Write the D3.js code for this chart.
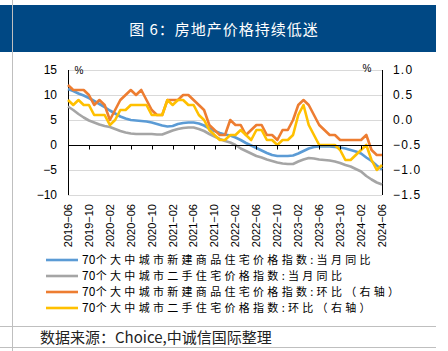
<!DOCTYPE html>
<html><head><meta charset="utf-8">
<script src="https://cdn.jsdelivr.net/npm/d3@7"></script>
<style>html,body{margin:0;padding:0;background:#fff;}svg{display:block;}</style>
</head><body>
<svg id="c" width="448" height="351"></svg>
<script>
const months = ["2019-06","2019-07","2019-08","2019-09","2019-10","2019-11","2019-12",
"2020-01","2020-02","2020-03","2020-04","2020-05","2020-06","2020-07","2020-08","2020-09","2020-10","2020-11","2020-12",
"2021-01","2021-02","2021-03","2021-04","2021-05","2021-06","2021-07","2021-08","2021-09","2021-10","2021-11","2021-12",
"2022-01","2022-02","2022-03","2022-04","2022-05","2022-06","2022-07","2022-08","2022-09","2022-10","2022-11","2022-12",
"2023-01","2023-02","2023-03","2023-04","2023-05","2023-06","2023-07","2023-08","2023-09","2023-10","2023-11","2023-12",
"2024-01","2024-02","2024-03","2024-04","2024-05","2024-06"];
const tickMonths = ["2019-06","2019-10","2020-02","2020-06","2020-10","2021-02","2021-06","2021-10","2022-02","2022-06","2022-10","2023-02","2023-06","2023-10","2024-02","2024-06"];
const leftTicks = [15,10,5,0,-5,-10];
const rightTicks = [1.0,0.5,0.0,-0.5,-1.0,-1.5];
const newYoY = [11.2,10.8,10.3,9.9,9.4,8.8,8.2,7.6,6.9,6.3,
5.7,5.3,5.0,4.9,4.8,4.7,4.5,4.2,3.9,3.7,
3.8,4.2,4.4,4.5,4.5,4.3,3.9,3.3,2.8,2.4,
2.1,1.9,1.5,1.0,0.4,-0.1,-0.6,-1.1,-1.6,-2.0,
-2.2,-2.2,-2.2,-2.1,-1.7,-1.2,-0.7,-0.4,-0.3,-0.3,
-0.3,-0.4,-0.5,-0.7,-1.0,-1.3,-1.7,-2.5,-3.2,-4.1,-4.9];
const usedYoY = [7.7,7.0,6.2,5.5,4.9,4.5,4.1,3.8,3.6,3.2,
2.8,2.5,2.3,2.2,2.2,2.2,2.2,2.1,2.1,2.5,
2.9,3.2,3.4,3.5,3.5,3.2,2.8,2.2,1.7,1.2,
0.8,0.5,0.0,-0.7,-1.2,-1.7,-2.2,-2.5,-2.9,-3.2,
-3.5,-3.7,-3.8,-3.8,-3.3,-2.9,-2.6,-2.7,-2.9,-3.0,
-3.1,-3.3,-3.6,-4.0,-4.3,-4.8,-5.3,-6.2,-6.9,-7.5,-7.9];
const newMoM = [0.7,0.6,0.6,0.6,0.5,0.3,0.4,0.3,0.0,0.2,
0.4,0.5,0.6,0.5,0.6,0.4,0.2,0.1,0.1,0.4,
0.4,0.4,0.5,0.5,0.4,0.3,0.2,-0.1,-0.2,-0.3,
-0.3,0.0,-0.1,-0.1,-0.3,-0.2,-0.1,-0.1,-0.3,-0.3,
-0.4,-0.2,-0.2,0.0,0.3,0.4,0.3,0.1,-0.1,-0.2,
-0.3,-0.3,-0.4,-0.4,-0.4,-0.4,-0.4,-0.3,-0.6,-0.7,-0.7];
const usedMoM = [0.4,0.3,0.4,0.3,0.3,0.1,0.1,0.1,-0.1,0.0,
0.2,0.2,0.3,0.3,0.3,0.3,0.1,0.1,0.1,0.4,
0.3,0.4,0.4,0.3,0.3,0.1,0.0,-0.2,-0.3,-0.4,
-0.4,-0.3,-0.3,-0.2,-0.3,-0.4,-0.2,-0.2,-0.4,-0.4,
-0.5,-0.4,-0.4,-0.3,0.1,0.3,-0.1,-0.3,-0.5,-0.5,
-0.5,-0.5,-0.6,-0.8,-0.8,-0.7,-0.6,-0.5,-0.8,-1.0,-0.9];
const seriesNames = ["70个大中城市新建商品住宅价格指数:当月同比","70个大中城市二手住宅价格指数:当月同比","70个大中城市新建商品住宅价格指数:环比（右轴）","70个大中城市二手住宅价格指数:环比（右轴）"];
const colors = ["#5B9BD5","#A5A5A5","#ED7D31","#FFC000"];
const title = "图 6：房地产价格持续低迷";
const source = "数据来源：Choice,中诚信国际整理";

const svg = d3.select("#c");
const cjk = "'Noto Sans CJK SC', sans-serif";
const num = "'Liberation Sans', Arial, sans-serif";

// frame
svg.append("rect").attr("x",0).attr("y",5).attr("width",436).attr("height",47).attr("fill","#004884");
svg.append("line").attr("x1",12.5).attr("x2",12.5).attr("y1",0).attr("y2",351).attr("stroke","#BFBFBF").attr("stroke-width",1);
svg.append("line").attr("x1",0).attr("x2",436).attr("y1",326.5).attr("y2",326.5).attr("stroke","#BFBFBF");
svg.append("line").attr("x1",0).attr("x2",436).attr("y1",347.5).attr("y2",347.5).attr("stroke","#BFBFBF");
svg.append("text").attr("x",224).attr("y",35).attr("text-anchor","middle").attr("fill","#fff")
  .attr("font-family",cjk).attr("font-size",15).attr("letter-spacing",1).text(title);

const x = d3.scalePoint().domain(months).range([68,382]);
const yL = d3.scaleLinear().domain([-10,15]).range([195,70]);
const yR = d3.scaleLinear().domain([-1.5,1.0]).range([195,70]);

// grid
svg.append("g").selectAll("line").data(leftTicks.filter(d=>d!==0)).join("line")
  .attr("x1",68).attr("x2",382).attr("y1",d=>Math.round(yL(d))+0.5).attr("y2",d=>Math.round(yL(d))+0.5)
  .attr("stroke","#D9D9D9").attr("stroke-width",1);

// left labels
svg.append("g").selectAll("text").data(leftTicks).join("text")
  .attr("x",57).attr("y",d=>yL(d)).attr("dy","0.35em").attr("text-anchor","end")
  .attr("font-family",num).attr("font-size",12).attr("fill","#000")
  .text(d=>d3.format("")(d).replace("-","−"));
// right labels
svg.append("g").selectAll("text").data(rightTicks).join("text")
  .attr("x",393).attr("y",d=>yR(d)).attr("dy","0.35em").attr("text-anchor","start")
  .attr("font-family",num).attr("font-size",12).attr("letter-spacing",1.2).attr("fill","#000")
  .text(d=>d3.format(".1f")(d).replace("-","−"));

svg.append("text").attr("x",79).attr("y",74).attr("text-anchor","middle").attr("font-family",num).attr("font-size",10).text("%");
svg.append("text").attr("x",367).attr("y",72).attr("text-anchor","middle").attr("font-family",num).attr("font-size",10).text("%");

// axes lines
svg.append("line").attr("x1",68.5).attr("x2",68.5).attr("y1",70).attr("y2",195).attr("stroke","#000");
svg.append("line").attr("x1",382.5).attr("x2",382.5).attr("y1",70).attr("y2",195).attr("stroke","#000");

// lines
const data = [
  {v:newYoY, y:yL, c:colors[0]},
  {v:usedYoY, y:yL, c:colors[1]},
  {v:newMoM, y:yR, c:colors[2]},
  {v:usedMoM, y:yR, c:colors[3]}
];
data.forEach(s=>{
  const line = d3.line().x((d,i)=>x(months[i])).y(d=>s.y(d));
  svg.append("path").datum(s.v).attr("d",line).attr("fill","none").attr("stroke",s.c)
    .attr("stroke-width",2.6).attr("stroke-linejoin","round");
});

// zero axis with ticks
const zy = Math.round(yL(0))+0.5;
svg.append("line").attr("x1",68).attr("x2",382).attr("y1",zy).attr("y2",zy).attr("stroke","#000");
svg.append("g").selectAll("line").data(tickMonths).join("line")
  .attr("x1",d=>Math.round(x(d))+0.5).attr("x2",d=>Math.round(x(d))+0.5).attr("y1",zy).attr("y2",zy+4).attr("stroke","#000");

// x labels
svg.append("g").selectAll("text").data(tickMonths).join("text")
  .attr("transform",d=>`translate(${x(d)},204) rotate(-90)`)
  .attr("dy","0.35em").attr("text-anchor","end")
  .attr("font-family",num).attr("font-size",11).attr("fill","#000")
  .text(d=>d.replace("-","−"));

// legend
const lg = svg.append("g");
seriesNames.forEach((n,i)=>{
  const yy = 260 + i*16;
  lg.append("line").attr("x1",46).attr("x2",78).attr("y1",yy).attr("y2",yy).attr("stroke",colors[i]).attr("stroke-width",2.6);
  const t = lg.append("text").attr("x",82).attr("y",yy).attr("dy","0.36em").attr("font-family",cjk)
    .attr("font-size",11).attr("fill","#000");
  t.append("tspan").attr("font-size",12).attr("letter-spacing",0.2).text(n.slice(0,2));
  t.append("tspan").attr("letter-spacing",3.3).text(n.slice(2));
});

svg.append("text").attr("x",40).attr("y",338).attr("dy","0.36em").attr("font-family",cjk)
  .attr("font-size",15).attr("fill","#222").text(source);
</script>
</body></html>
